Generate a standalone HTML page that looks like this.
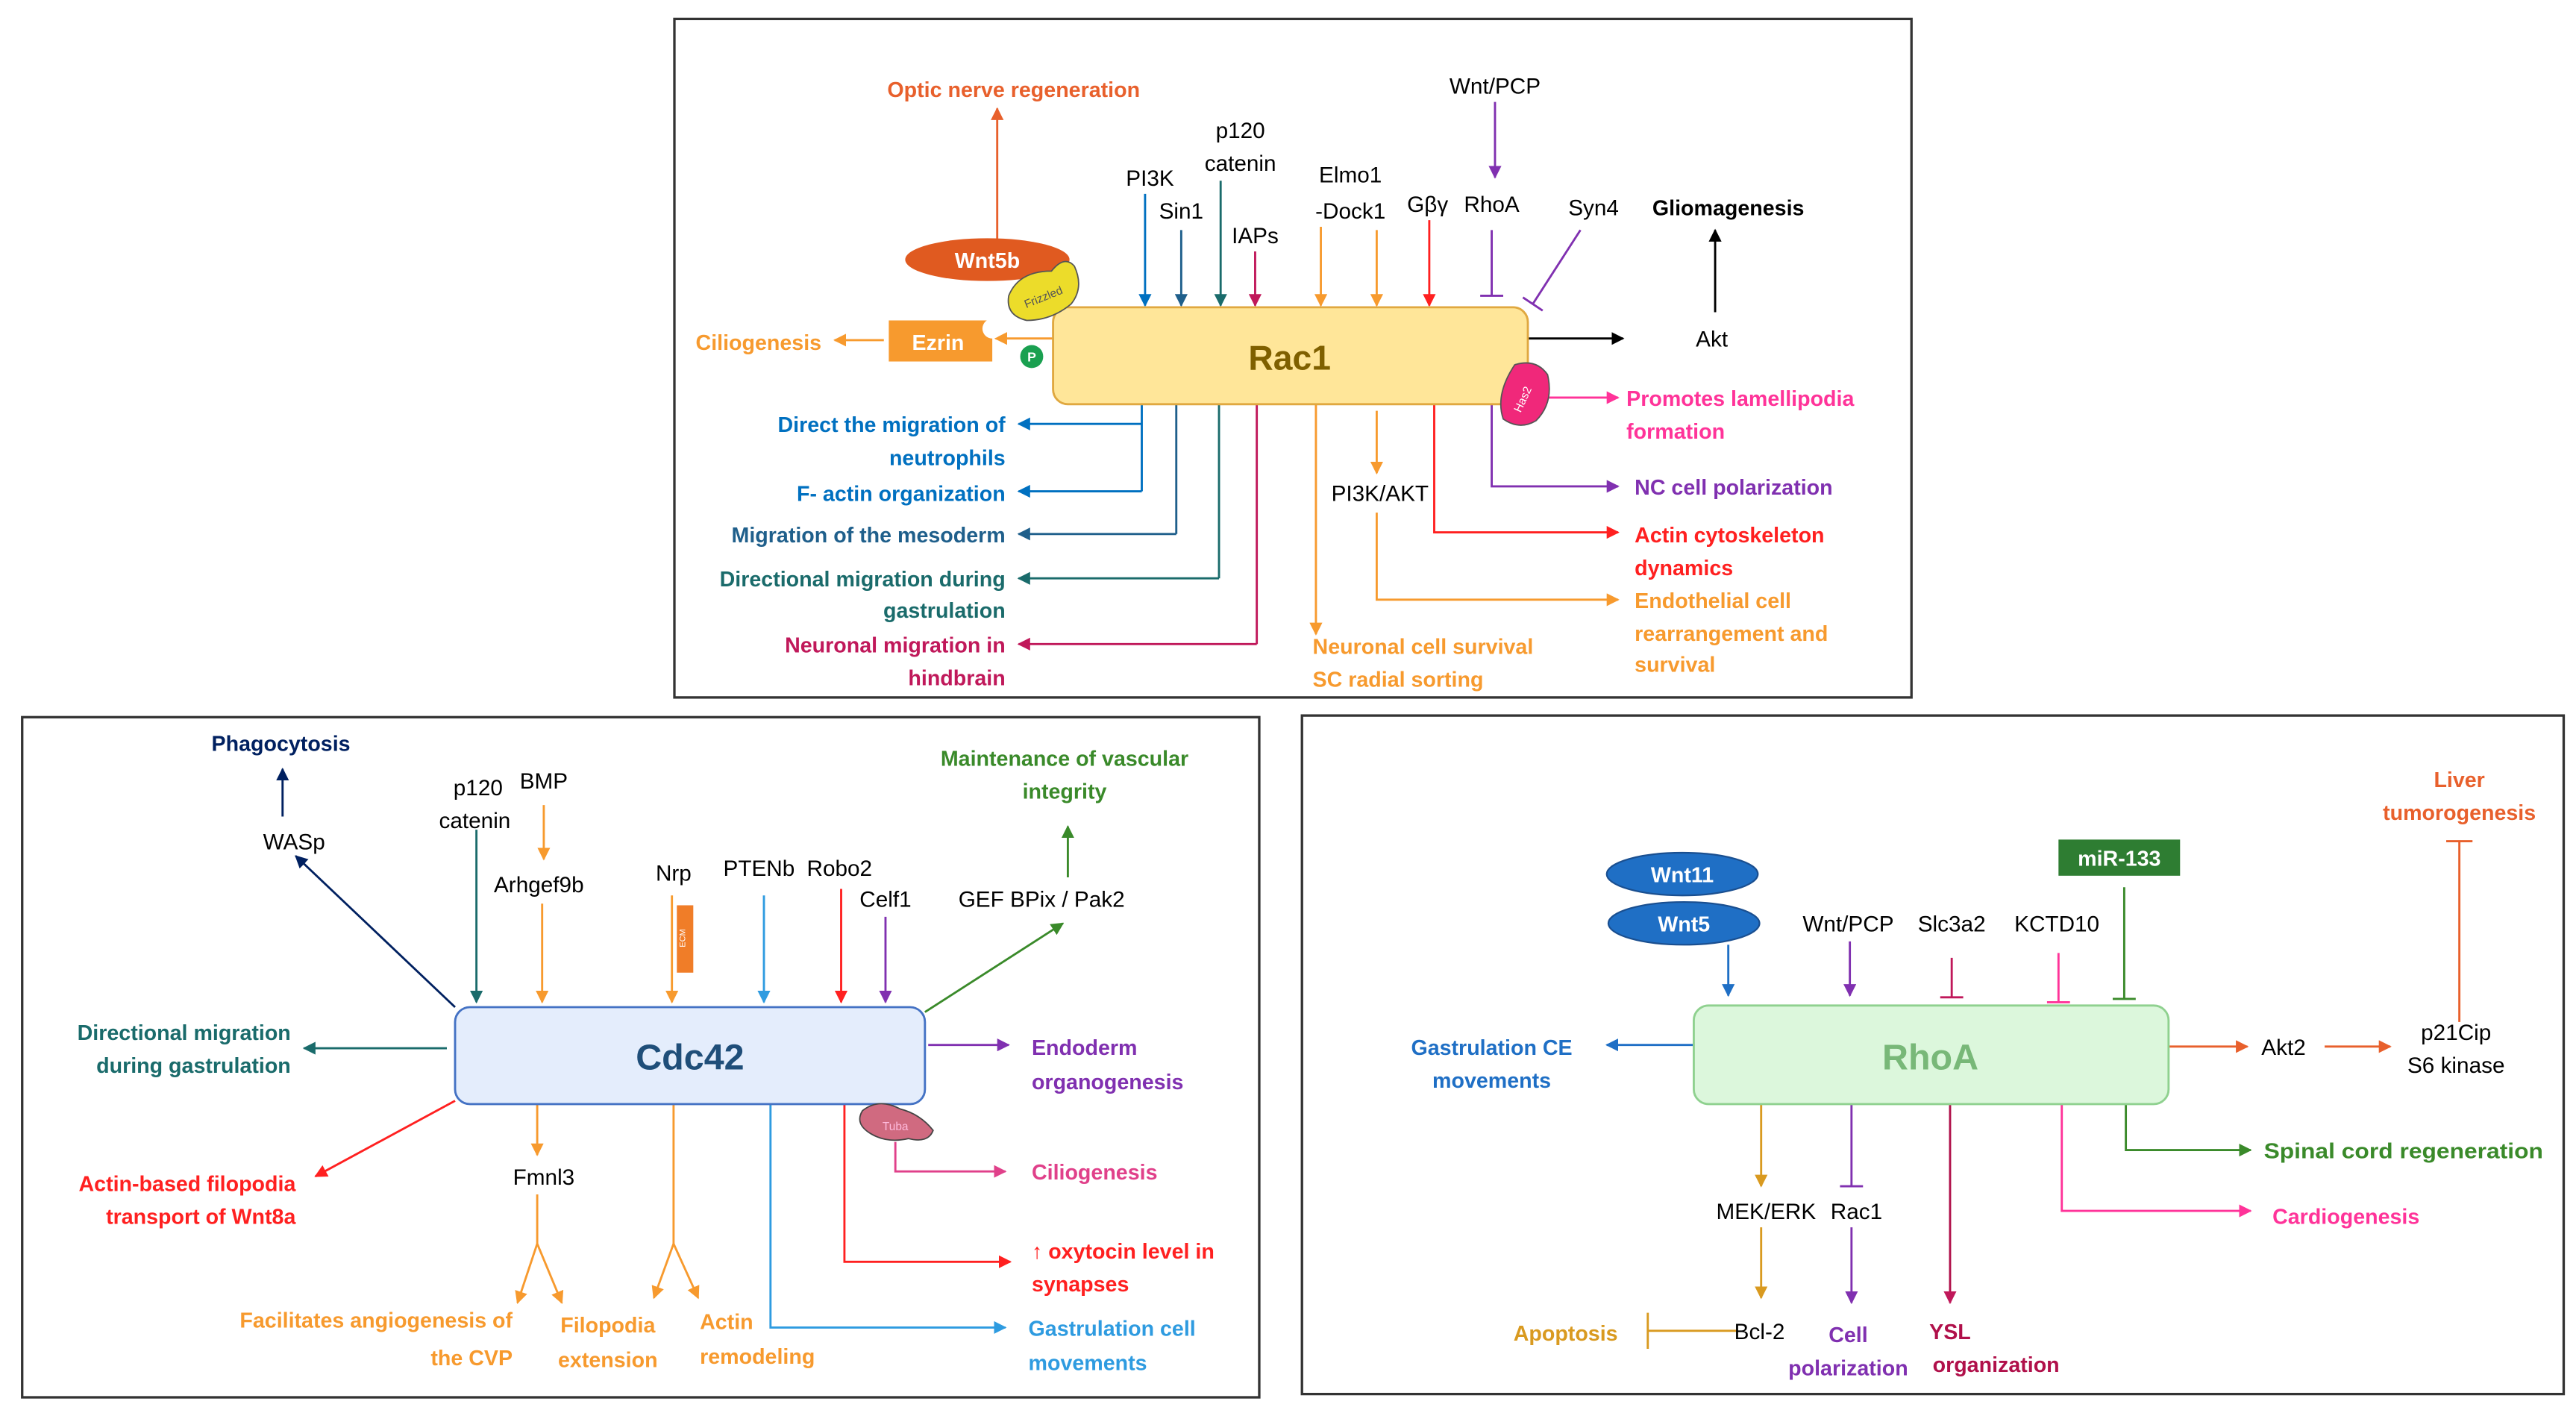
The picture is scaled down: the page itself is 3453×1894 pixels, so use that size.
<!DOCTYPE html>
<html><head><meta charset="utf-8"><style>
html,body{margin:0;padding:0;background:#fff}
svg{display:block}
text{font-family:"Liberation Sans",sans-serif;font-size:13.5px}
.b{font-weight:bold;font-size:13px}
</style></head><body>
<svg width="3453" height="1894" viewBox="0 0 1568 860" xmlns="http://www.w3.org/2000/svg">
<defs>
<marker id="m0" viewBox="0 0 10 10" refX="9" refY="5" markerWidth="6" markerHeight="6" orient="auto"><path d="M0,0L10,5L0,10z" fill="#000"/></marker>
<marker id="m1" viewBox="0 0 10 10" refX="9" refY="5" markerWidth="6" markerHeight="6" orient="auto"><path d="M0,0L10,5L0,10z" fill="#0070c0"/></marker>
<marker id="m2" viewBox="0 0 10 10" refX="9" refY="5" markerWidth="6" markerHeight="6" orient="auto"><path d="M0,0L10,5L0,10z" fill="#1f5f8b"/></marker>
<marker id="m3" viewBox="0 0 10 10" refX="9" refY="5" markerWidth="6" markerHeight="6" orient="auto"><path d="M0,0L10,5L0,10z" fill="#1a6b6b"/></marker>
<marker id="m4" viewBox="0 0 10 10" refX="9" refY="5" markerWidth="6" markerHeight="6" orient="auto"><path d="M0,0L10,5L0,10z" fill="#c0185a"/></marker>
<marker id="m5" viewBox="0 0 10 10" refX="9" refY="5" markerWidth="6" markerHeight="6" orient="auto"><path d="M0,0L10,5L0,10z" fill="#f79a2e"/></marker>
<marker id="m6" viewBox="0 0 10 10" refX="9" refY="5" markerWidth="6" markerHeight="6" orient="auto"><path d="M0,0L10,5L0,10z" fill="#ff2020"/></marker>
<marker id="m7" viewBox="0 0 10 10" refX="9" refY="5" markerWidth="6" markerHeight="6" orient="auto"><path d="M0,0L10,5L0,10z" fill="#8030b0"/></marker>
<marker id="m8" viewBox="0 0 10 10" refX="9" refY="5" markerWidth="6" markerHeight="6" orient="auto"><path d="M0,0L10,5L0,10z" fill="#ff3399"/></marker>
<marker id="m9" viewBox="0 0 10 10" refX="9" refY="5" markerWidth="6" markerHeight="6" orient="auto"><path d="M0,0L10,5L0,10z" fill="#e8602c"/></marker>
<marker id="m10" viewBox="0 0 10 10" refX="9" refY="5" markerWidth="6" markerHeight="6" orient="auto"><path d="M0,0L10,5L0,10z" fill="#002060"/></marker>
<marker id="m11" viewBox="0 0 10 10" refX="9" refY="5" markerWidth="6" markerHeight="6" orient="auto"><path d="M0,0L10,5L0,10z" fill="#3a8a2a"/></marker>
<marker id="m12" viewBox="0 0 10 10" refX="9" refY="5" markerWidth="6" markerHeight="6" orient="auto"><path d="M0,0L10,5L0,10z" fill="#2e9be0"/></marker>
<marker id="m13" viewBox="0 0 10 10" refX="9" refY="5" markerWidth="6" markerHeight="6" orient="auto"><path d="M0,0L10,5L0,10z" fill="#d99a20"/></marker>
<marker id="m14" viewBox="0 0 10 10" refX="9" refY="5" markerWidth="6" markerHeight="6" orient="auto"><path d="M0,0L10,5L0,10z" fill="#1f6fc5"/></marker>
<marker id="m15" viewBox="0 0 10 10" refX="9" refY="5" markerWidth="6" markerHeight="6" orient="auto"><path d="M0,0L10,5L0,10z" fill="#e0408a"/></marker>
</defs>
<g fill="none" stroke-width="1.3">
<rect x="410.5" y="11.5" width="753" height="413" stroke="#333" stroke-width="1.5"/>
<rect x="13.5" y="436.5" width="753" height="414" stroke="#333" stroke-width="1.5"/>
<rect x="792.5" y="435.5" width="768" height="413" stroke="#333" stroke-width="1.5"/>

<line x1="607" y1="146" x2="607" y2="66" stroke="#e8602c" marker-end="url(#m9)"/>
<line x1="697" y1="118" x2="697" y2="186" stroke="#0070c0" marker-end="url(#m1)"/>
<line x1="719" y1="140" x2="719" y2="186" stroke="#1f5f8b" marker-end="url(#m2)"/>
<line x1="743" y1="110" x2="743" y2="186" stroke="#1a6b6b" marker-end="url(#m3)"/>
<line x1="764" y1="153" x2="764" y2="186" stroke="#c0185a" marker-end="url(#m4)"/>
<line x1="804" y1="138" x2="804" y2="186" stroke="#f79a2e" marker-end="url(#m5)"/>
<line x1="838" y1="140" x2="838" y2="186" stroke="#f79a2e" marker-end="url(#m5)"/>
<line x1="870" y1="134" x2="870" y2="186" stroke="#ff2020" marker-end="url(#m6)"/>
<line x1="910" y1="62" x2="910" y2="108" stroke="#8030b0" marker-end="url(#m7)"/>
<path d="M908 140V180M901 180H915" stroke="#8030b0"/>
<path d="M962 140L933 185M927 181L939 189" stroke="#8030b0"/>
<line x1="1044" y1="190" x2="1044" y2="140" stroke="#000" marker-end="url(#m0)"/>
<line x1="930" y1="206" x2="988" y2="206" stroke="#000" marker-end="url(#m0)"/>
<line x1="641" y1="206" x2="606" y2="206" stroke="#f79a2e" marker-end="url(#m5)"/>
<line x1="538" y1="207" x2="508" y2="207" stroke="#f79a2e" marker-end="url(#m5)"/>
<line x1="940" y1="242" x2="985" y2="242" stroke="#ff3399" marker-end="url(#m8)"/>
<path d="M695 246V299" stroke="#0070c0"/>
<line x1="695" y1="258" x2="620" y2="258" stroke="#0070c0" marker-end="url(#m1)"/>
<line x1="695" y1="299" x2="620" y2="299" stroke="#0070c0" marker-end="url(#m1)"/>
<path d="M716 246V325" stroke="#1f5f8b"/>
<line x1="716" y1="325" x2="620" y2="325" stroke="#1f5f8b" marker-end="url(#m2)"/>
<path d="M742 246V352" stroke="#1a6b6b"/>
<line x1="742" y1="352" x2="620" y2="352" stroke="#1a6b6b" marker-end="url(#m3)"/>
<path d="M765 246V392" stroke="#c0185a"/>
<line x1="765" y1="392" x2="620" y2="392" stroke="#c0185a" marker-end="url(#m4)"/>
<line x1="801" y1="246" x2="801" y2="386" stroke="#f79a2e" marker-end="url(#m5)"/>
<line x1="838" y1="250" x2="838" y2="288" stroke="#f79a2e" marker-end="url(#m5)"/>
<path d="M838 312V365H985" stroke="#f79a2e" marker-end="url(#m5)"/>
<path d="M873 246V324H985" stroke="#ff2020" marker-end="url(#m6)"/>
<path d="M908 246V296H985" stroke="#8030b0" marker-end="url(#m7)"/>
</g>
<rect x="641" y="187" width="289" height="59" rx="9" fill="#ffe699" stroke="#e0a840" stroke-width="1.3"/>
<text x="785" y="225" text-anchor="middle" style="font-size:21px;font-weight:bold" fill="#7f6000">Rac1</text>
<ellipse cx="601" cy="158" rx="50" ry="13" fill="#e05a20"/>
<text x="601" y="163" text-anchor="middle" class="b" fill="#fff">Wnt5b</text>
<path d="M614 180Q620 165 640 165Q648 155 654 162Q660 175 652 185Q640 195 625 195Q612 192 614 180z" fill="#ecdc2a" stroke="#555" stroke-width="0.8"/>
<text x="636" y="183" transform="rotate(-22 636 183)" text-anchor="middle" style="font-size:7px" fill="#555">Frizzled</text>
<rect x="541" y="195" width="63" height="25" fill="#f79a2e"/>
<circle cx="604" cy="200" r="6" fill="#fff"/>
<text x="571" y="213" text-anchor="middle" class="b" fill="#fff">Ezrin</text>
<circle cx="628" cy="217" r="7" fill="#1aa050"/>
<text x="628" y="220" text-anchor="middle" style="font-size:8px;font-weight:bold" fill="#fff">P</text>
<path d="M922 222Q935 218 942 228Q946 245 935 256Q925 262 915 255Q910 240 922 222z" fill="#f0287a" stroke="#555" stroke-width="0.8"/>
<text x="929" y="244" transform="rotate(-65 929 244)" text-anchor="middle" style="font-size:7px" fill="#fff">Has2</text>
<g text-anchor="middle" fill="#000">
<text x="617" y="59" class="b" fill="#e8602c">Optic nerve regeneration</text>
<text x="700" y="113">PI3K</text>
<text x="719" y="133">Sin1</text>
<text x="755" y="84">p120</text>
<text x="755" y="104">catenin</text>
<text x="764" y="148">IAPs</text>
<text x="822" y="111">Elmo1</text>
<text x="822" y="133">-Dock1</text>
<text x="869" y="129">Gβγ</text>
<text x="910" y="57">Wnt/PCP</text>
<text x="908" y="129">RhoA</text>
<text x="970" y="131">Syn4</text>
<text x="1052" y="131" class="b">Gliomagenesis</text>
<text x="1042" y="211">Akt</text>
<text x="840" y="305">PI3K/AKT</text>
</g>
<g class="b">
<text x="500" y="213" text-anchor="end" class="b" fill="#f79a2e">Ciliogenesis</text>
<g text-anchor="end">
<text x="612" y="263" class="b" fill="#0070c0">Direct the migration of</text>
<text x="612" y="283" class="b" fill="#0070c0">neutrophils</text>
<text x="612" y="305" class="b" fill="#0070c0">F- actin organization</text>
<text x="612" y="330" class="b" fill="#1f5f8b">Migration of the mesoderm</text>
<text x="612" y="357" class="b" fill="#1a6b6b">Directional migration during</text>
<text x="612" y="376" class="b" fill="#1a6b6b">gastrulation</text>
<text x="612" y="397" class="b" fill="#c0185a">Neuronal migration in</text>
<text x="612" y="417" class="b" fill="#c0185a">hindbrain</text>
</g>
<text x="799" y="398" class="b" fill="#f79a2e">Neuronal cell survival</text>
<text x="799" y="418" class="b" fill="#f79a2e">SC radial sorting</text>
<text x="990" y="247" class="b" fill="#ff3399">Promotes lamellipodia</text>
<text x="990" y="267" class="b" fill="#ff3399">formation</text>
<text x="995" y="301" class="b" fill="#8030b0">NC cell polarization</text>
<text x="995" y="330" class="b" fill="#ff2020">Actin cytoskeleton</text>
<text x="995" y="350" class="b" fill="#ff2020">dynamics</text>
<text x="995" y="370" class="b" fill="#f79a2e">Endothelial cell</text>
<text x="995" y="390" class="b" fill="#f79a2e">rearrangement and</text>
<text x="995" y="409" class="b" fill="#f79a2e">survival</text>
</g>

<g fill="none" stroke-width="1.3">
<line x1="172" y1="497" x2="172" y2="468" stroke="#002060" marker-end="url(#m10)"/>
<line x1="277" y1="613" x2="180" y2="521" stroke="#002060" marker-end="url(#m10)"/>
<line x1="290" y1="505" x2="290" y2="610" stroke="#1a6b6b" marker-end="url(#m3)"/>
<line x1="331" y1="490" x2="331" y2="523" stroke="#f79a2e" marker-end="url(#m5)"/>
<line x1="330" y1="550" x2="330" y2="610" stroke="#f79a2e" marker-end="url(#m5)"/>
<line x1="409" y1="545" x2="409" y2="610" stroke="#f79a2e" marker-end="url(#m5)"/>
<line x1="465" y1="545" x2="465" y2="610" stroke="#2e9be0" marker-end="url(#m12)"/>
<line x1="512" y1="541" x2="512" y2="610" stroke="#ff2020" marker-end="url(#m6)"/>
<line x1="539" y1="558" x2="539" y2="610" stroke="#8030b0" marker-end="url(#m7)"/>
<line x1="563" y1="616" x2="647" y2="562" stroke="#3a8a2a" marker-end="url(#m11)"/>
<line x1="650" y1="534" x2="650" y2="503" stroke="#3a8a2a" marker-end="url(#m11)"/>
<line x1="272" y1="638" x2="185" y2="638" stroke="#1a6b6b" marker-end="url(#m3)"/>
<line x1="277" y1="670" x2="192" y2="716" stroke="#ff2020" marker-end="url(#m6)"/>
<line x1="565" y1="636" x2="614" y2="636" stroke="#8030b0" marker-end="url(#m7)"/>
<line x1="327" y1="672" x2="327" y2="703" stroke="#f79a2e" marker-end="url(#m5)"/>
<path d="M327 727V757" stroke="#f79a2e"/>
<line x1="327" y1="757" x2="315" y2="793" stroke="#f79a2e" marker-end="url(#m5)"/>
<line x1="327" y1="757" x2="342" y2="793" stroke="#f79a2e" marker-end="url(#m5)"/>
<path d="M410 672V757" stroke="#f79a2e"/>
<line x1="410" y1="757" x2="398" y2="790" stroke="#f79a2e" marker-end="url(#m5)"/>
<line x1="410" y1="757" x2="425" y2="790" stroke="#f79a2e" marker-end="url(#m5)"/>
<path d="M469 672V808H612" stroke="#2e9be0" marker-end="url(#m12)"/>
<path d="M514 672V768H615" stroke="#ff2020" marker-end="url(#m6)"/>
<path d="M545 695V713H612" stroke="#e0408a" marker-end="url(#m15)"/>
</g>
<rect x="412" y="551" width="10" height="41" fill="#f07d28"/>
<text x="417" y="571" transform="rotate(-90 417 571)" text-anchor="middle" style="font-size:5px" fill="#fff">ECM</text>
<rect x="277" y="613" width="286" height="59" rx="9" fill="#e4edfc" stroke="#4472c4" stroke-width="1.3"/>
<text x="420" y="651" text-anchor="middle" style="font-size:22px;font-weight:bold" fill="#1f4e79">Cdc42</text>
<path d="M525 676Q535 668 548 675Q560 678 568 688Q565 696 553 693Q540 696 530 690Q520 684 525 676z" fill="#d06a80" stroke="#444" stroke-width="0.8"/>
<text x="545" y="688" text-anchor="middle" style="font-size:7px" fill="#fbd">Tuba</text>
<g text-anchor="middle" fill="#000">
<text x="171" y="457" class="b" fill="#002060">Phagocytosis</text>
<text x="179" y="517">WASp</text>
<text x="291" y="484">p120</text>
<text x="289" y="504">catenin</text>
<text x="331" y="480">BMP</text>
<text x="328" y="543">Arhgef9b</text>
<text x="410" y="536">Nrp</text>
<text x="462" y="533">PTENb</text>
<text x="511" y="533">Robo2</text>
<text x="539" y="552">Celf1</text>
<text x="634" y="552">GEF BPix / Pak2</text>
<text x="331" y="721">Fmnl3</text>
<text x="648" y="466" class="b" fill="#3a8a2a">Maintenance of vascular</text>
<text x="648" y="486" class="b" fill="#3a8a2a">integrity</text>
<text x="370" y="811" class="b" fill="#f79a2e">Filopodia</text>
<text x="370" y="832" class="b" fill="#f79a2e">extension</text>
</g>
<g text-anchor="end">
<text x="177" y="633" class="b" fill="#1a6b6b">Directional migration</text>
<text x="177" y="653" class="b" fill="#1a6b6b">during gastrulation</text>
<text x="180" y="725" class="b" fill="#ff2020">Actin-based filopodia</text>
<text x="180" y="745" class="b" fill="#ff2020">transport of Wnt8a</text>
<text x="312" y="808" class="b" fill="#f79a2e">Facilitates angiogenesis of</text>
<text x="312" y="831" class="b" fill="#f79a2e">the CVP</text>
</g>
<text x="426" y="809" class="b" fill="#f79a2e">Actin</text>
<text x="426" y="830" class="b" fill="#f79a2e">remodeling</text>
<text x="628" y="642" class="b" fill="#8030b0">Endoderm</text>
<text x="628" y="663" class="b" fill="#8030b0">organogenesis</text>
<text x="628" y="718" class="b" fill="#e0408a">Ciliogenesis</text>
<text x="628" y="766" class="b" fill="#ff2020">↑ oxytocin level in</text>
<text x="628" y="786" class="b" fill="#ff2020">synapses</text>
<text x="626" y="813" class="b" fill="#2e9be0">Gastrulation cell</text>
<text x="626" y="834" class="b" fill="#2e9be0">movements</text>

<g fill="none" stroke-width="1.3">
<line x1="1052" y1="575" x2="1052" y2="606" stroke="#1f6fc5" marker-end="url(#m14)"/>
<line x1="1126" y1="573" x2="1126" y2="606" stroke="#8030b0" marker-end="url(#m7)"/>
<path d="M1188 583V607M1181 607H1195" stroke="#c0185a"/>
<path d="M1253 580V610M1246 610H1260" stroke="#ff3399"/>
<path d="M1293 540V608M1286 608H1300" stroke="#3a8a2a"/>
<path d="M1497 622V512M1489 512H1505" stroke="#e8602c"/>
<line x1="1320" y1="637" x2="1368" y2="637" stroke="#e8602c" marker-end="url(#m9)"/>
<line x1="1415" y1="637" x2="1455" y2="637" stroke="#e8602c" marker-end="url(#m9)"/>
<line x1="1031" y1="636" x2="978" y2="636" stroke="#1f6fc5" marker-end="url(#m14)"/>
<path d="M1294 672V700H1370" stroke="#3a8a2a" marker-end="url(#m11)"/>
<path d="M1255 672V737H1370" stroke="#ff3399" marker-end="url(#m8)"/>
<line x1="1072" y1="672" x2="1072" y2="722" stroke="#d99a20" marker-end="url(#m13)"/>
<line x1="1072" y1="747" x2="1072" y2="790" stroke="#d99a20" marker-end="url(#m13)"/>
<path d="M1058 810H1003M1003 799V821" stroke="#d99a20"/>
<path d="M1127 672V722M1120 722H1134" stroke="#8030b0"/>
<line x1="1127" y1="747" x2="1127" y2="793" stroke="#8030b0" marker-end="url(#m7)"/>
<line x1="1187" y1="672" x2="1187" y2="793" stroke="#b0104a" marker-end="url(#m4)"/>
</g>
<ellipse cx="1024" cy="532" rx="46" ry="13" fill="#1f6fc5" stroke="#1a4f90"/>
<text x="1024" y="537" text-anchor="middle" class="b" fill="#fff">Wnt11</text>
<ellipse cx="1025" cy="562" rx="46" ry="13" fill="#1f6fc5" stroke="#1a4f90"/>
<text x="1025" y="567" text-anchor="middle" class="b" fill="#fff">Wnt5</text>
<rect x="1253" y="511" width="74" height="22" fill="#2e7d32"/>
<text x="1290" y="527" text-anchor="middle" class="b" fill="#fff">miR-133</text>
<rect x="1031" y="612" width="289" height="60" rx="9" fill="#dcf7dc" stroke="#8fd18f" stroke-width="1.3"/>
<text x="1175" y="651" text-anchor="middle" style="font-size:22px;font-weight:bold" fill="#78b878">RhoA</text>
<g text-anchor="middle" fill="#000">
<text x="1125" y="567">Wnt/PCP</text>
<text x="1188" y="567">Slc3a2</text>
<text x="1252" y="567">KCTD10</text>
<text x="1390" y="642">Akt2</text>
<text x="1495" y="633">p21Cip</text>
<text x="1495" y="653">S6 kinase</text>
<text x="1075" y="742">MEK/ERK</text>
<text x="1130" y="742">Rac1</text>
<text x="1071" y="815">Bcl-2</text>
<text x="1497" y="479" class="b" fill="#e8602c">Liver</text>
<text x="1497" y="499" class="b" fill="#e8602c">tumorogenesis</text>
<text x="908" y="642" class="b" fill="#1f6fc5">Gastrulation CE</text>
<text x="908" y="662" class="b" fill="#1f6fc5">movements</text>
<text x="953" y="816" class="b" fill="#d99a20">Apoptosis</text>
<text x="1125" y="817" class="b" fill="#8030b0">Cell</text>
<text x="1125" y="837" class="b" fill="#8030b0">polarization</text>
<text x="1187" y="815" class="b" fill="#b0104a">YSL</text>
<text x="1215" y="835" class="b" fill="#b0104a">organization</text>
<text x="1428" y="745" class="b" fill="#ff3399">Cardiogenesis</text>
</g>
<text x="1378" y="705" class="b" fill="#3a8a2a" textLength="170" lengthAdjust="spacingAndGlyphs">Spinal cord regeneration</text>
</svg>
</body></html>
